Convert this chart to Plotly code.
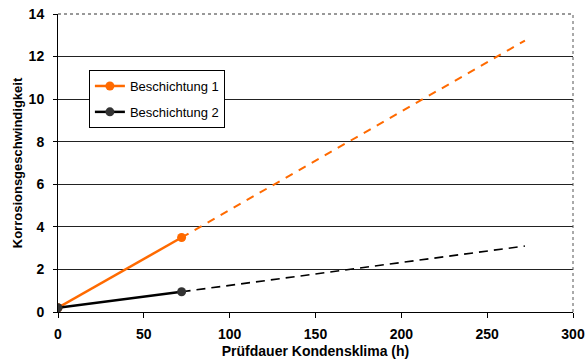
import plotly.graph_objects as go

# Data
hours = [0, 72]
b1_values = [0.2, 3.5]
b2_values = [0.2, 0.95]
trend_hours = [72, 272]
b1_trend = [3.5, 12.75]
b2_trend = [0.95, 3.1]
series_names = ["Beschichtung 1", "Beschichtung 2"]
x_ticks = [0, 50, 100, 150, 200, 250, 300]
y_ticks = [0, 2, 4, 6, 8, 10, 12, 14]

ORANGE = "#FF6A00"
DARK = "#333333"
FONT = "Liberation Sans, Arial, sans-serif"

fig = go.Figure()

fig.add_trace(go.Scatter(x=trend_hours, y=b1_trend, mode="lines",
                         line=dict(color=ORANGE, width=2, dash="8px,7px"),
                         showlegend=False, hoverinfo="skip"))
fig.add_trace(go.Scatter(x=trend_hours, y=b2_trend, mode="lines",
                         line=dict(color="black", width=1.6, dash="9px,6px"),
                         showlegend=False, hoverinfo="skip"))

fig.add_trace(go.Scatter(x=hours, y=b1_values, mode="lines+markers", name=series_names[0],
                         legendgroup="a",
                         line=dict(color=ORANGE, width=2.5),
                         marker=dict(color=ORANGE, size=9)))
fig.add_trace(go.Scatter(x=hours, y=b2_values, mode="lines+markers", name=series_names[1],
                         legendgroup="b",
                         line=dict(color="black", width=2.5),
                         marker=dict(color=DARK, size=9)))

fig.update_layout(
    width=586, height=364,
    margin=dict(l=58, r=13, t=14, b=52),
    paper_bgcolor="white", plot_bgcolor="white",
    font=dict(family=FONT, color="black"),
    legend=dict(x=0.06, y=0.812, xanchor="left", yanchor="top",
                bgcolor="white", bordercolor="black", borderwidth=1,
                font=dict(size=13), tracegroupgap=6, itemwidth=30),
    showlegend=True,
)

fig.update_xaxes(range=[0, 300], tickvals=x_ticks, showgrid=False, zeroline=False,
                 showline=True, linecolor="black", linewidth=1, automargin=False,
                 ticks="outside", ticklen=5, tickcolor="black", ticklabelstandoff=4,
                 ticklabeloverflow="allow",
                 tickfont=dict(size=14, family=FONT, weight="bold"),
                 title=dict(text="<b>Prüfdauer Kondensklima (h)</b>", font=dict(size=14), standoff=5))
fig.update_yaxes(range=[0, 14], tickvals=y_ticks, showgrid=True, gridcolor="#222222", gridwidth=1,
                 zeroline=False, showline=True, linecolor="black", linewidth=1, automargin=False,
                 ticks="outside", ticklen=4, tickcolor="black", ticklabelstandoff=6,
                 ticklabeloverflow="allow",
                 tickfont=dict(size=14, family=FONT, weight="bold"),
                 title=dict(text="<b>Korrosionsgeschwindigkeit</b>", font=dict(size=13), standoff=3))

# dotted top/right frame
fig.add_shape(type="line", xref="paper", yref="paper", x0=0, x1=1, y0=1, y1=1,
              line=dict(color="#333333", width=1, dash="dot"))
fig.add_shape(type="line", xref="paper", yref="paper", x0=1, x1=1, y0=0, y1=1,
              line=dict(color="#555555", width=1, dash="dot"))

# remove the default 8px page margin so the figure fills the window exactly
fig.write_html("out.html", config={"displayModeBar": False},
               post_script="document.body.style.margin='0';")
